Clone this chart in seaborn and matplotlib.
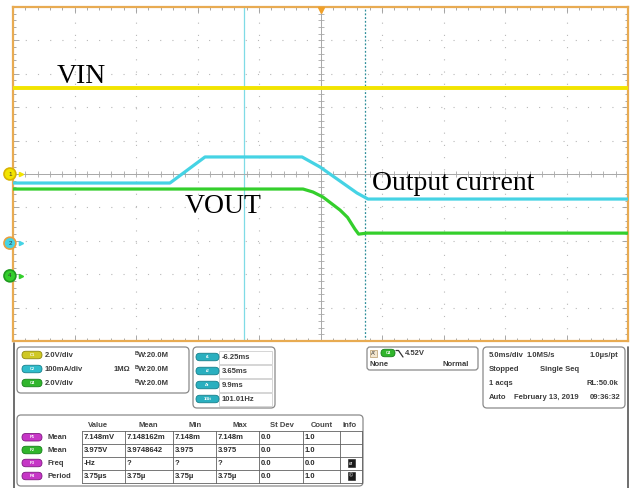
import numpy as np
import pandas as pd
import matplotlib
matplotlib.use("Agg")
import matplotlib.pyplot as plt
import seaborn as sns
from matplotlib.patches import FancyBboxPatch, Rectangle
from matplotlib.ticker import MultipleLocator

# scope traces: time in ms (5 ms/div), level in screen divisions
vin_t = [-25, 25]
vin_div = [2.57, 2.57]

iout_t = [-25, -12.24, -9.39, -1.5, -0.04, 2.97, 3.86, 25]
iout_div = [-0.27, -0.27, 0.51, 0.51, 0.21, -0.57, -0.75, -0.75]

vout_t = [-25, -1.42, -0.61, 0.2, 1.59, 2.2, 2.8, 3.1, 3.78, 25]
vout_div = [-0.45, -0.45, -0.54, -0.69, -1.08, -1.3, -1.65, -1.8, -1.77, -1.77]

cursor_t = [-6.25, 3.65]
ground_lab = ['1', '2', '4']
ground_div = [0.0, -2.07, -3.05]

# readout panel
ch_names = ['C1', 'C2', 'C4']
ch_scale = ['2.0V/div', '100mA/div', '2.0V/div']
cur_names = ['t1', 't2', '\u0394t', '1/\u0394t']
cur_vals = ['-6.25ms', '3.65ms', '9.9ms', '101.01Hz']
tb_rows = [['5.0ms/div', '1.0MS/s', '1.0\u00b5s/pt'],
           ['Stopped', 'Single Seq', ''],
           ['1 acqs', '', 'RL:50.0k'],
           ['Auto', 'February 13, 2019', '09:36:32']]
tbl_head = ['Value', 'Mean', 'Min', 'Max', 'St Dev', 'Count', 'Info']
tbl_names = ['Mean', 'Mean', 'Freq', 'Period']
tbl_value = ['7.148mV', '3.975V', '-Hz', '3.75\u00b5s']
tbl_mean = ['7.148162m', '3.9748642', '?', '3.75\u00b5']
tbl_min = ['7.148m', '3.975', '?', '3.75\u00b5']
tbl_max = ['7.148m', '3.975', '?', '3.75\u00b5']
tbl_sdev = ['0.0', '0.0', '0.0', '0.0']
tbl_count = ['1.0', '1.0', '0.0', '1.0']

YEL, CYA, GRN = '#f2e400', '#45d3e4', '#34cf2c'
ORANGE = '#e8ab52'

sns.set_style("white")
plt.rcParams['font.family'] = ['Liberation Sans', 'DejaVu Sans']

fig = plt.figure(figsize=(6.33, 4.88), dpi=100)
L, R, T, B = 13, 628, 7, 341
ax = fig.add_axes([L / 633, 1 - B / 488, (R - L) / 633, (B - T) / 488])
ax.set_zorder(2)

df = pd.concat([
    pd.DataFrame({'t': vin_t, 'div': vin_div, 'ch': 'C1'}),
    pd.DataFrame({'t': vout_t, 'div': vout_div, 'ch': 'C4'}),
    pd.DataFrame({'t': iout_t, 'div': iout_div, 'ch': 'C2'}),
])

# cursors
ax.axvline(cursor_t[0], color='#7fdbe6', lw=0.9, zorder=1)
ax.axvline(cursor_t[1], color='#2f8f9a', lw=0.9, ls=(0, (1.5, 1.5)), zorder=1)

for ch, col, lw in [('C1', YEL, 2.8), ('C4', GRN, 2.3), ('C2', CYA, 2.3)]:
    sns.lineplot(data=df[df.ch == ch], x='t', y='div', color=col, lw=lw,
                 sort=False, ax=ax, legend=False, zorder=3)

ax.set_xlim(-25, 25)
ax.set_ylim(-5, 5)
ax.set_xlabel('')
ax.set_ylabel('')
ax.xaxis.set_major_locator(MultipleLocator(5))
ax.xaxis.set_minor_locator(MultipleLocator(1))
ax.yaxis.set_major_locator(MultipleLocator(1))
ax.yaxis.set_minor_locator(MultipleLocator(0.2))
ax.tick_params(which='both', direction='in', top=True, right=True, bottom=True, left=True,
               labelbottom=False, labelleft=False, color='#9a9a9a', width=0.6)
ax.tick_params(which='major', length=4)
ax.tick_params(which='minor', length=2.5)
ax.grid(True, which='major', color='#b8b8b8', ls=(0, (1, 10)), lw=0.8)
for s in ax.spines.values():
    s.set_color(ORANGE)
    s.set_linewidth(1.6)

# centre crosshair with ticks
ax.axhline(0, color='#a8a8a8', lw=0.7, zorder=1)
ax.axvline(0, color='#a8a8a8', lw=0.7, zorder=1)
xt = np.arange(-25, 25.01, 1)
ax.plot(xt, np.zeros_like(xt), ls='none', marker='|', ms=4, mew=0.6, color='#a8a8a8', zorder=1)
yt = np.arange(-5, 5.01, 0.2)
ax.plot(np.zeros_like(yt), yt, ls='none', marker='_', ms=4, mew=0.6, color='#a8a8a8', zorder=1)

# trigger position marker
ax.plot([0], [4.9], marker='v', ms=5, color='#f0a028', clip_on=False, zorder=5)

# channel ground markers
mk_style = [(YEL, '#d9b300'), (CYA, '#e8a040'), (GRN, '#1f9a1f')]
ytr = ax.get_yaxis_transform()
for lab, yv, (fc, ec) in zip(ground_lab, ground_div, mk_style):
    ax.text(-0.005, yv, lab, transform=ytr, ha='center', va='center', fontsize=4.5,
            color='#333333', bbox=dict(boxstyle='circle,pad=0.55', fc=fc, ec=ec, lw=1.2),
            clip_on=False, zorder=10)
    ax.plot([0.013], [yv], transform=ytr, marker='>', ms=3, color=fc, clip_on=False, zorder=10)

# annotations
serif = dict(family=['Liberation Serif', 'DejaVu Serif'], fontsize=20, color='black', zorder=6)
ax.text(-21.42, 2.72, 'VIN', va='baseline', **serif)
ax.text(-11.02, -1.17, 'VOUT', va='baseline', **serif)
ax.text(4.19, -0.48, 'Output current', va='baseline', **serif)

# ---- readout panel (pixel coordinates) ----
pn = fig.add_axes([0, 0, 1, 147 / 488])
pn.set_zorder(1)
pn.set_xlim(0, 633)
pn.set_ylim(488, 341)
pn.axis('off')

TXT = dict(fontsize=5.5, fontweight='bold', color='#3c3c3c', va='center')


def box(x0, y0, x1, y1, r=4, ec='#8a8a8a'):
    pn.add_patch(FancyBboxPatch((x0, y0), x1 - x0, y1 - y0,
                                boxstyle=f"round,pad=0,rounding_size={r}",
                                fc='white', ec=ec, lw=0.9))


def pill(x0, yc, w, fc, ec, label, h=7.5):
    pn.add_patch(FancyBboxPatch((x0, yc - h / 2), w, h,
                                boxstyle=f"round,pad=0,rounding_size={h / 2}",
                                fc=fc, ec=ec, lw=0.6))
    pn.text(x0 + w / 2, yc, label, fontsize=3, color='white', ha='center', va='center',
            fontweight='bold')


pn.plot([14, 14], [343, 488], color='#555555', lw=1.2)
pn.plot([628, 628], [347, 488], color='#555555', lw=1.2)

# channel box
box(17, 347, 189, 393)
pill_cols = [('#cfc824', '#8f8a10'), ('#2fbccb', '#17808c'), ('#30b52c', '#17801a')]
for i, y in enumerate([355, 369, 383]):
    pill(22, y, 20, pill_cols[i][0], pill_cols[i][1], ch_names[i])
    pn.text(45, y, ch_scale[i], **TXT)
    pn.text(134.5, y - 1.8, 'B', **dict(TXT, fontsize=3.8))
    pn.text(138, y + 0.6, 'W:20.0M', **TXT)
pn.text(114, 369, '1M\u03a9', **TXT)

# cursor box
box(193, 347, 275, 408)
for i, y in enumerate([357, 371, 385, 399]):
    pn.add_patch(Rectangle((219, y - 6.5), 53, 13, fc='white', ec='#cfcfcf', lw=0.6))
    pill(196, y, 23, '#2aafbf', '#16808c', cur_names[i])
    pn.text(222, y, cur_vals[i], **TXT)

# trigger box
box(367, 347, 478, 370, r=3)
pn.add_patch(Rectangle((370, 349.5), 7, 7.5, fc='#f3e6cf', ec='#b89a6a', lw=0.5))
pn.text(373.5, 353.3, "A'", fontsize=4, color='#333333', ha='center', va='center')
pill(381, 353, 14, '#30b52c', '#17801a', 'C4')
pn.plot([396, 398.5, 403], [350.5, 350.5, 357], color='#333333', lw=0.9)
pn.text(405, 353, '4.52V', **TXT)
pn.text(370, 364, 'None', **TXT)
pn.text(469, 364, 'Normal', ha='right', **TXT)

# timebase box
box(483, 347, 625, 408)
tb_x = [(489, 'left'), (527, 'left'), (618, 'right')]
for r, y in enumerate([355, 369, 383, 397]):
    for c, s in enumerate(tb_rows[r]):
        if not s:
            continue
        x, ha = tb_x[c]
        if r == 1 and c == 1:
            x = 540
        if r == 3 and c == 1:
            x = 514
        if r == 3 and c == 2:
            x = 621
        pn.text(x, y, s, ha=ha, **TXT)

# measurement table
box(17, 415, 363, 486)
col_x = [82, 125, 173, 216, 259, 303, 340, 362]
row_y = [431, 443.5, 456.5, 469.5, 482.5]
head_x = [98, 148, 195, 240, 282, 322, 350]
for hx, h in zip(head_x, tbl_head):
    pn.text(hx, 425, h, ha='center', **dict(TXT, color='#444444'))
for x in col_x:
    pn.plot([x, x], [row_y[0], row_y[-1]], color='#606060', lw=0.6)
for y in row_y:
    pn.plot([col_x[0], col_x[-1]], [y, y], color='#606060', lw=0.6)
row_pill = [('#c636c6', '#7e1a80'), ('#30b52c', '#17801a'), ('#c636c6', '#7e1a80'), ('#c636c6', '#7e1a80')]
pill_lab = ['P1', 'P2', 'P3', 'P4']
cols = [tbl_value, tbl_mean, tbl_min, tbl_max, tbl_sdev, tbl_count]
for r in range(4):
    yc = (row_y[r] + row_y[r + 1]) / 2
    pill(22, yc, 20, row_pill[r][0], row_pill[r][1], pill_lab[r])
    pn.text(47, yc, tbl_names[r], **TXT)
    for c, vals in enumerate(cols):
        pn.text(col_x[c] + 2, yc, vals[r], **dict(TXT, color='#2a2a2a'))
    if r >= 2:
        pn.add_patch(Rectangle((347.5, yc - 4), 7, 7.5, fc='#1a1a1a', ec='#1a1a1a', lw=0.4))
        pn.text(351, yc, '\u00f8' if r == 2 else '\u00a9', fontsize=4, color='white',
                ha='center', va='center')

fig.savefig('out.png', dpi=100)
